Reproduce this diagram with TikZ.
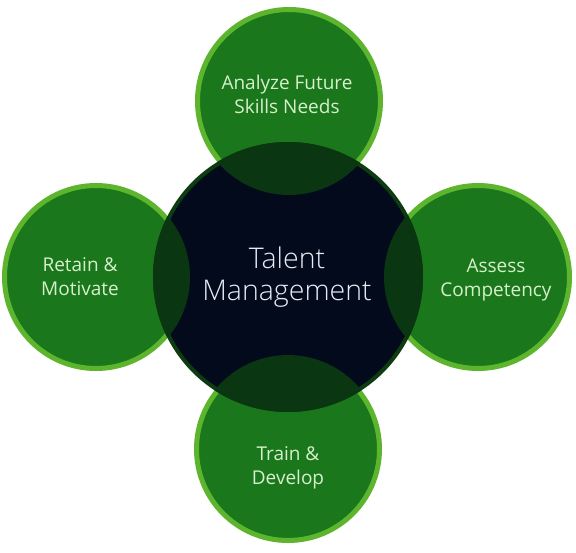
\documentclass[tikz,border=0pt]{standalone}
\usepackage{fontspec}
\setmainfont{Open Sans}
\newfontfamily\lightfont{Open Sans Light}
\definecolor{ringgreen}{HTML}{5DB52E}
\definecolor{fillgreen}{HTML}{1A771C}
\definecolor{lensgreen}{HTML}{0A3711}
\definecolor{rimgreen}{HTML}{0C3C0F}
\definecolor{navy}{HTML}{030A1B}
\definecolor{outertext}{HTML}{D6F0CC}
\definecolor{centertext}{HTML}{E6ECF4}
\tikzset{
  petal/.style={circle, inner sep=0pt, minimum size=183pt, line width=5pt, draw=ringgreen, fill=fillgreen},
  hub/.style={circle, inner sep=0pt, minimum size=266pt, line width=4pt, draw=rimgreen, fill=navy},
  petaltext/.style={align=center, text=outertext, font=\fontsize{19}{24}\selectfont, inner sep=0pt},
  hubtext/.style={align=center, text=centertext, font=\lightfont\fontsize{28.5}{32}\selectfont, inner sep=0pt}
}
\begin{document}
\begin{tikzpicture}[x=1pt,y=-1pt]
\useasboundingbox (0,0) rectangle (576,552);
\fill[white] (0,0) rectangle (576,552);
\node[petal] (top) at (289,101) {};
\node[petal] (left) at (96,277) {};
\node[petal] (right) at (478,277) {};
\node[petal] (bottom) at (288,449) {};
\node[hub] (hub) at (288,277) {};
\begin{scope}
  \clip (hub.center) circle[radius=135pt];
  \fill[lensgreen] (top.center) circle[radius=94pt];
  \fill[lensgreen] (left.center) circle[radius=94pt];
  \fill[lensgreen] (right.center) circle[radius=94pt];
  \fill[lensgreen] (bottom.center) circle[radius=94pt];
\end{scope}
\node[petaltext] (toptext) at (287,94.5) {Analyze Future\\Skills Needs};
\node[petaltext] (lefttext) at (80,277) {Retain \&\\Motivate};
\node[petaltext] (righttext) at (496,279.5) {Assess\\Competency};
\node[petaltext] (bottomtext) at (288,467.5) {Train \&\\Develop};
\node[hubtext] (hubtext) at (287,277.5) {Talent\\Management};
\end{tikzpicture}
\end{document}
